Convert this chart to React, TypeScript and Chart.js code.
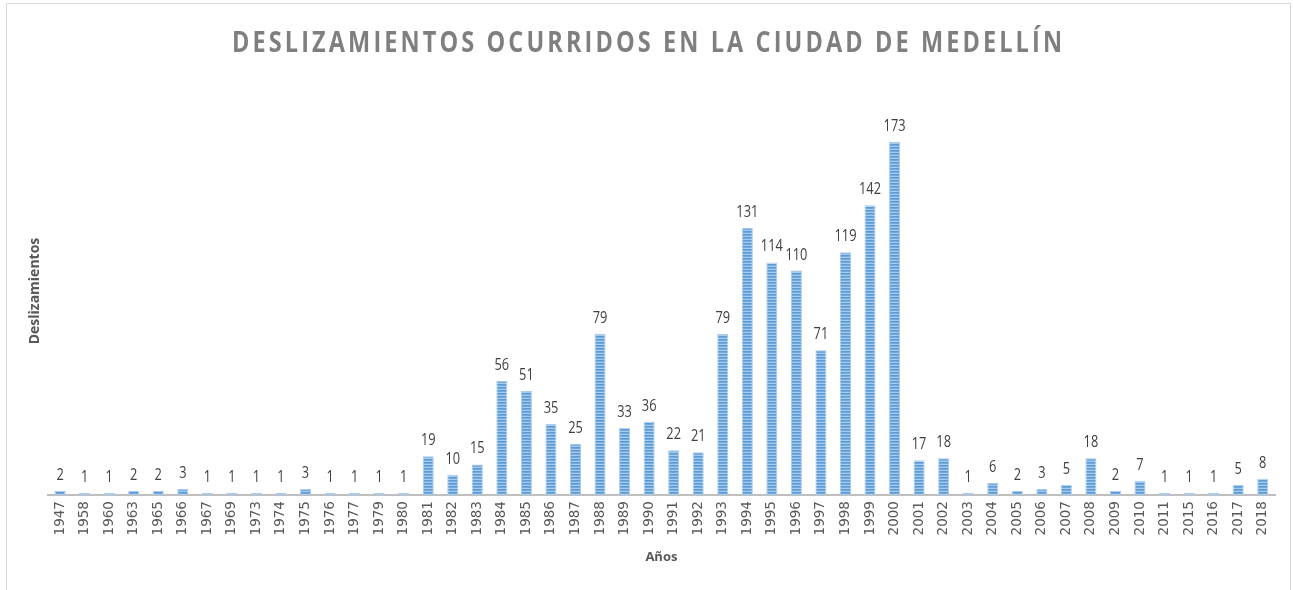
import React, { useEffect, useRef } from "react";
import { Chart, registerables } from "chart.js";

Chart.register(...registerables);

const years: string[] = [
  "1947", "1958", "1960", "1963", "1965", "1966", "1967", "1969", "1973", "1974",
  "1975", "1976", "1977", "1979", "1980", "1981", "1982", "1983", "1984", "1985",
  "1986", "1987", "1988", "1989", "1990", "1991", "1992", "1993", "1994", "1995",
  "1996", "1997", "1998", "1999", "2000", "2001", "2002", "2003", "2004", "2005",
  "2006", "2007", "2008", "2009", "2010", "2011", "2015", "2016", "2017", "2018",
];

const deslizamientos: number[] = [
  2, 1, 1, 2, 2, 3, 1, 1, 1, 1,
  3, 1, 1, 1, 1, 19, 10, 15, 56, 51,
  35, 25, 79, 33, 36, 22, 21, 79, 131, 114,
  110, 71, 119, 142, 173, 17, 18, 1, 6, 2,
  3, 5, 18, 2, 7, 1, 1, 1, 5, 8,
];

const chartTitle = "DESLIZAMIENTOS OCURRIDOS EN LA CIUDAD DE MEDELLÍN";
const xTitle = "Años";
const yTitle = "Deslizamientos";

const borderPlugin = {
  id: "frameBorder",
  beforeDraw(chart: any) {
    const ctx = chart.ctx;
    ctx.save();
    ctx.fillStyle = "#ffffff";
    ctx.fillRect(0, 0, chart.width, chart.height);
    ctx.strokeStyle = "#d9d9d9";
    ctx.lineWidth = 1;
    ctx.strokeRect(6.5, 3.5, chart.width - 9, chart.height + 20);
    ctx.restore();
  },
};

const titlePlugin = {
  id: "spacedTitle",
  afterDraw(chart: any) {
    const ctx = chart.ctx as any;
    const sx = 0.84;
    const target = 830;
    ctx.save();
    ctx.font = "bold 28px 'Open Sans', sans-serif";
    ctx.fillStyle = "#7f7f7f";
    ctx.textBaseline = "alphabetic";
    ctx.textAlign = "left";
    ctx.letterSpacing = "0px";
    const w0 = ctx.measureText(chartTitle).width;
    const sp = Math.max(0, (target / sx - w0) / (chartTitle.length - 1));
    ctx.letterSpacing = sp + "px";
    ctx.translate(647 - target / 2, 52);
    ctx.scale(sx, 1);
    ctx.fillText(chartTitle, 0, 0);
    ctx.restore();
  },
};

const labelPlugin = {
  id: "barValues",
  afterDatasetsDraw(chart: any) {
    const ctx = chart.ctx;
    const meta = chart.getDatasetMeta(0);
    const data = chart.data.datasets[0].data as number[];
    ctx.save();
    ctx.font = "16px 'Open Sans', sans-serif";
    ctx.fillStyle = "#404040";
    ctx.textAlign = "center";
    ctx.textBaseline = "alphabetic";
    meta.data.forEach((bar: any, i: number) => {
      ctx.save();
      ctx.translate(bar.x, bar.y - 11);
      ctx.scale(0.8, 1);
      ctx.fillText(String(data[i]), 0, 0);
      ctx.restore();
    });
    ctx.restore();
  },
};

function makePattern(): CanvasPattern | string {
  const c = document.createElement("canvas");
  c.width = 1;
  c.height = 3;
  const g = c.getContext("2d");
  if (!g) return "#5b9bd5";
  const rows = ["#5b9bd5", "#72a9de", "#a8cbec"];
  rows.forEach((col, i) => {
    g.fillStyle = col;
    g.fillRect(0, i, 1, 1);
  });
  const p = g.createPattern(c, "repeat");
  return p || "#5b9bd5";
}

export default function App() {
  const ref = useRef<HTMLCanvasElement | null>(null);

  useEffect(() => {
    document.body.style.margin = "0";
    const canvas = ref.current;
    if (!canvas) return;
    const pattern = makePattern();
    const chart = new Chart(canvas, {
      type: "bar",
      data: {
        labels: years,
        datasets: [
          {
            data: deslizamientos,
            backgroundColor: pattern as any,
            borderColor: "#a9cbec",
            borderWidth: 1,
            borderSkipped: "bottom",
            categoryPercentage: 1,
            barPercentage: 0.45,
          },
        ],
      },
      options: {
        animation: false,
        responsive: false,
        maintainAspectRatio: false,
        layout: { padding: { top: 87, left: 23, right: 18, bottom: 25 } },
        plugins: {
          legend: { display: false },
          title: { display: false },
          tooltip: { enabled: false },
        },
        scales: {
          x: {
            grid: { display: false, drawTicks: false },
            border: { display: true, color: "#bfbfbf", width: 2 },
            ticks: {
              minRotation: 90,
              maxRotation: 90,
              autoSkip: false,
              padding: 6,
              color: "#595959",
              font: { family: "'DejaVu Sans', sans-serif", size: 13.5 },
            },
            title: {
              display: true,
              text: xTitle,
              color: "#595959",
              font: { family: "'Open Sans', sans-serif", size: 13, weight: "bold" },
              padding: { top: 8, bottom: 0 },
            },
          },
          y: {
            min: 0,
            max: 200,
            grid: { display: false, drawTicks: false },
            border: { display: false },
            ticks: { display: false },
            title: {
              display: true,
              text: yTitle,
              color: "#595959",
              font: { family: "'Open Sans', sans-serif", size: 14, weight: "bold" },
              padding: 4,
            },
          },
        },
      },
      plugins: [borderPlugin, titlePlugin, labelPlugin],
    });
    return () => chart.destroy();
  }, []);

  return (
    <div style={{ width: 1293, height: 590 }}>
      <canvas ref={ref} width={1293} height={590} style={{ display: "block" }} />
    </div>
  );
}
